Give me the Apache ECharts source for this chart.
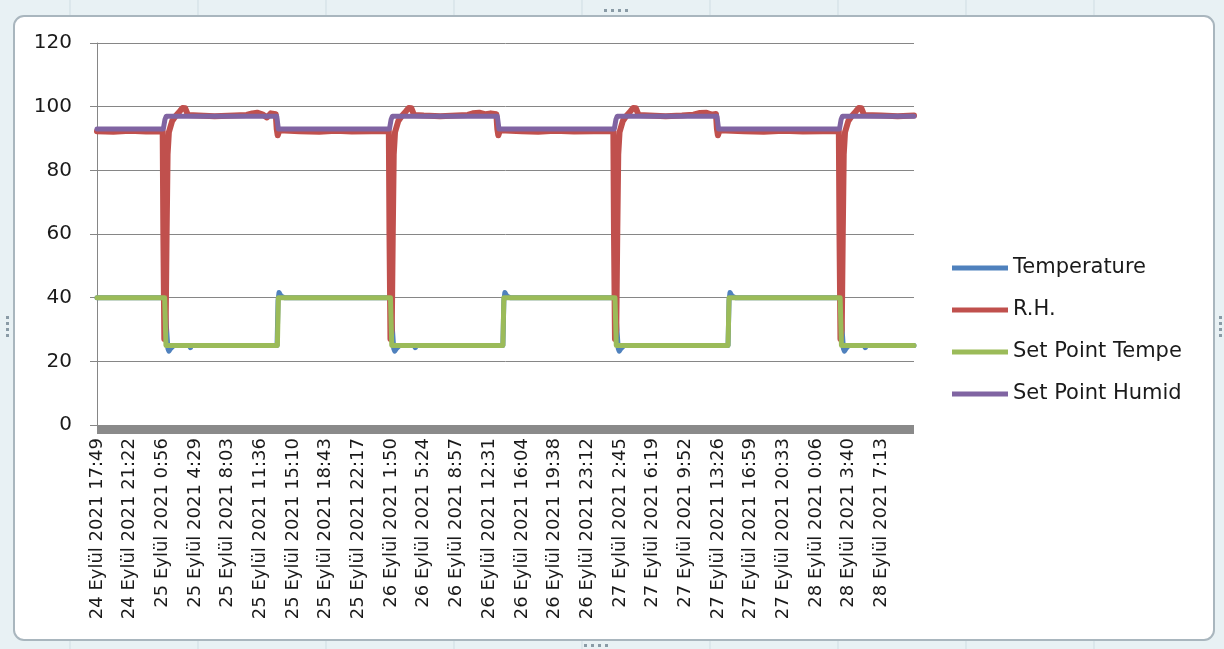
<!DOCTYPE html>
<html>
<head>
<meta charset="utf-8">
<script src="https://cdn.jsdelivr.net/npm/echarts@6/dist/echarts.min.js"></script>
<style>
  html, body { margin: 0; padding: 0; background: #e8f1f4; }
  #chart { width: 1224px; height: 649px; }
</style>
</head>
<body>
<div id="chart"></div>
<script>
// Tick labels of the time axis (one every ~3h33m)
const tickLabels = [
  "24 Eylül 2021 17:49", "24 Eylül 2021 21:22", "25 Eylül 2021 0:56", "25 Eylül 2021 4:29",
  "25 Eylül 2021 8:03", "25 Eylül 2021 11:36", "25 Eylül 2021 15:10", "25 Eylül 2021 18:43",
  "25 Eylül 2021 22:17", "26 Eylül 2021 1:50", "26 Eylül 2021 5:24", "26 Eylül 2021 8:57",
  "26 Eylül 2021 12:31", "26 Eylül 2021 16:04", "26 Eylül 2021 19:38", "26 Eylül 2021 23:12",
  "27 Eylül 2021 2:45", "27 Eylül 2021 6:19", "27 Eylül 2021 9:52", "27 Eylül 2021 13:26",
  "27 Eylül 2021 16:59", "27 Eylül 2021 20:33", "28 Eylül 2021 0:06", "28 Eylül 2021 3:40",
  "28 Eylül 2021 7:13"
];
const seriesNames = ["Temperature", "R.H.", "Set Point Tempe", "Set Point Humid"];
const yTicks = [0, 20, 40, 60, 80, 100, 120];

// x positions are in tick-label steps (0 = first label)
const temperature = [
  [0,40],[2.07,40],[2.13,30],[2.17,24],[2.2,23.2],[2.25,24],[2.35,25],[2.82,25],[2.86,24.3],[2.9,25],
  [5.51,25],[5.54,39],[5.57,41.6],[5.63,40.5],[5.74,40],
  [8.98,40],[9.04,30],[9.08,24],[9.11,23.2],[9.16,24],[9.26,25],[9.7,25],[9.74,24.3],[9.78,25],
  [12.42,25],[12.45,39],[12.48,41.6],[12.54,40.5],[12.65,40],
  [15.85,40],[15.91,30],[15.95,24],[15.98,23.2],[16.03,24],[16.13,25],[18.35,25],[18.38,25.6],[18.41,25],
  [19.31,25],[19.34,39],[19.37,41.6],[19.43,40.5],[19.54,40],
  [22.74,40],[22.8,30],[22.84,24],[22.87,23.2],[22.92,24],[23.01,25],[23.47,25],[23.51,24.3],[23.55,25],[25,25]
];
const relHumidity = [
  [0,92.3],[0.5,92.1],[1.0,92.4],[1.5,92.2],[2.01,92.3],
  [2.03,60],[2.06,27],[2.1,30],[2.13,60],[2.16,85],[2.2,92],[2.3,95.5],[2.4,97],[2.53,98.5],[2.62,99.6],[2.7,99.5],[2.78,97.4],
  [3.1,97.2],[3.6,97.0],[4.2,97.2],[4.58,97.4],[4.75,97.9],[4.9,98.1],[5.06,97.6],[5.2,96.6],[5.32,97.9],[5.47,97.6],
  [5.5,93],[5.53,91],[5.58,92.6],[6.2,92.3],[6.8,92.1],[7.3,92.4],[7.8,92.2],[8.4,92.3],[8.93,92.3],
  [8.95,60],[8.98,27],[9.02,30],[9.05,60],[9.08,85],[9.12,92],[9.22,95.5],[9.32,97],[9.45,98.5],[9.54,99.6],[9.62,99.5],[9.7,97.4],
  [10.0,97.2],[10.5,97.0],[11.0,97.2],[11.35,97.4],[11.5,97.9],[11.7,98.1],[11.9,97.6],[12.05,97.9],[12.22,97.6],
  [12.25,93],[12.28,91],[12.33,92.6],[13.0,92.3],[13.5,92.1],[14.0,92.4],[14.6,92.2],[15.2,92.3],[15.8,92.3],
  [15.82,60],[15.85,27],[15.89,30],[15.92,60],[15.95,85],[15.99,92],[16.09,95.5],[16.19,97],[16.32,98.5],[16.41,99.6],[16.49,99.5],[16.57,97.4],
  [16.9,97.2],[17.4,97.0],[17.9,97.2],[18.25,97.5],[18.45,98.0],[18.65,98.1],[18.8,97.5],[18.94,97.7],
  [18.97,93],[19.0,91],[19.05,92.6],[19.8,92.3],[20.4,92.1],[21.0,92.4],[21.6,92.2],[22.2,92.3],[22.7,92.3],
  [22.72,60],[22.75,27],[22.79,30],[22.82,60],[22.85,85],[22.89,92],[22.99,95.5],[23.09,97],[23.22,98.5],[23.31,99.6],[23.39,99.5],[23.47,97.4],
  [24.0,97.2],[24.5,97.0],[25,97.2]
];
const setPointTemp = [
  [0,40],[2.07,40],[2.11,25],[5.52,25],[5.55,40],[8.98,40],[9.02,25],[12.42,25],[12.45,40],
  [15.85,40],[15.89,25],[19.31,25],[19.34,40],[22.74,40],[22.78,25],[25,25]
];
const setPointHumid = [
  [0,93],[2.03,93],[2.08,96],[2.12,97],[5.5,97],[5.55,93],[8.95,93],[9.0,96],[9.04,97],
  [12.25,97],[12.3,93],[15.83,93],[15.88,96],[15.92,97],[18.97,97],[19.02,93],
  [22.72,93],[22.77,96],[22.81,97],[25,97]
];

const colors = ["#4F81BD", "#C0504D", "#9BBB59", "#8064A2"];
const FONT = "DejaVu Sans";

const chart = echarts.init(document.getElementById("chart"), null, { renderer: "canvas" });

const handleDots = [];
[[604,9],[611,9],[618,9],[625,9],[584,644],[591,644],[598,644],[605,644]].forEach(p => {
  handleDots.push({ type: "rect", z: -5, shape: { x: p[0], y: p[1], width: 3, height: 3 }, style: { fill: "#8a9ba6" } });
});
[[1219,316],[1219,322],[1219,328],[1219,334],[6,316],[6,322],[6,328],[6,334]].forEach(p => {
  handleDots.push({ type: "rect", z: -5, shape: { x: p[0], y: p[1], width: 3, height: 3 }, style: { fill: "#8a9ba6" } });
});
const cellLines = [];
[70, 198, 326, 454, 582, 710, 838, 966, 1094].forEach(x => {
  cellLines.push({ type: "line", z: -20, shape: { x1: x, y1: 0, x2: x, y2: 16 }, style: { stroke: "#cfdde3", lineWidth: 1 } });
  cellLines.push({ type: "line", z: -20, shape: { x1: x, y1: 640, x2: x, y2: 649 }, style: { stroke: "#cfdde3", lineWidth: 1 } });
});

chart.setOption({
  animation: false,
  color: colors,
  textStyle: { fontFamily: FONT },
  graphic: [
    ...cellLines,
    { type: "rect", z: -10, shape: { x: 14, y: 16, width: 1200, height: 624, r: 10 },
      style: { fill: "#ffffff", stroke: "#a9b6be", lineWidth: 2 } },
    ...handleDots
  ],
  grid: { left: 97, right: 310, top: 43, bottom: 224, containLabel: false },
  legend: {
    orient: "vertical",
    left: 947,
    top: 252,
    icon: "rect",
    itemWidth: 56,
    itemHeight: 5,
    itemGap: 20,
    data: seriesNames,
    textStyle: { fontFamily: FONT, fontSize: 21, color: "#1a1a1a", lineHeight: 22 }
  },
  xAxis: {
    type: "value",
    min: 0,
    max: 25,
    interval: 1,
    offset: 4,
    axisLine: { show: true, onZero: false, lineStyle: { color: "#8a8a8a", width: 9, cap: "butt" } },
    axisTick: { show: false },
    splitLine: { show: false },
    axisLabel: {
      rotate: 90,
      margin: 9,
      fontFamily: FONT,
      fontSize: 18,
      color: "#1a1a1a",
      showMaxLabel: true,
      formatter: v => tickLabels[v] !== undefined ? tickLabels[v] : ""
    }
  },
  yAxis: {
    type: "value",
    min: yTicks[0],
    max: yTicks[yTicks.length - 1],
    interval: 20,
    axisLine: { show: true, lineStyle: { color: "#868686", width: 1 } },
    axisTick: { show: true, inside: false, length: 7, lineStyle: { color: "#868686" } },
    splitLine: { show: true, lineStyle: { color: "#868686", width: 1 } },
    axisLabel: { margin: 25, fontFamily: FONT, fontSize: 20, color: "#1a1a1a" }
  },
  series: [
    { name: seriesNames[0], type: "line", data: temperature, symbol: "none", z: 2,
      lineStyle: { width: 5, cap: "round", join: "round" } },
    { name: seriesNames[1], type: "line", data: relHumidity, symbol: "none", z: 3,
      lineStyle: { width: 6, cap: "round", join: "round" } },
    { name: seriesNames[2], type: "line", data: setPointTemp, symbol: "none", z: 4,
      lineStyle: { width: 5, cap: "round", join: "round" } },
    { name: seriesNames[3], type: "line", data: setPointHumid, symbol: "none", z: 5,
      lineStyle: { width: 5, cap: "round", join: "round" } }
  ]
});
</script>
</body>
</html>
